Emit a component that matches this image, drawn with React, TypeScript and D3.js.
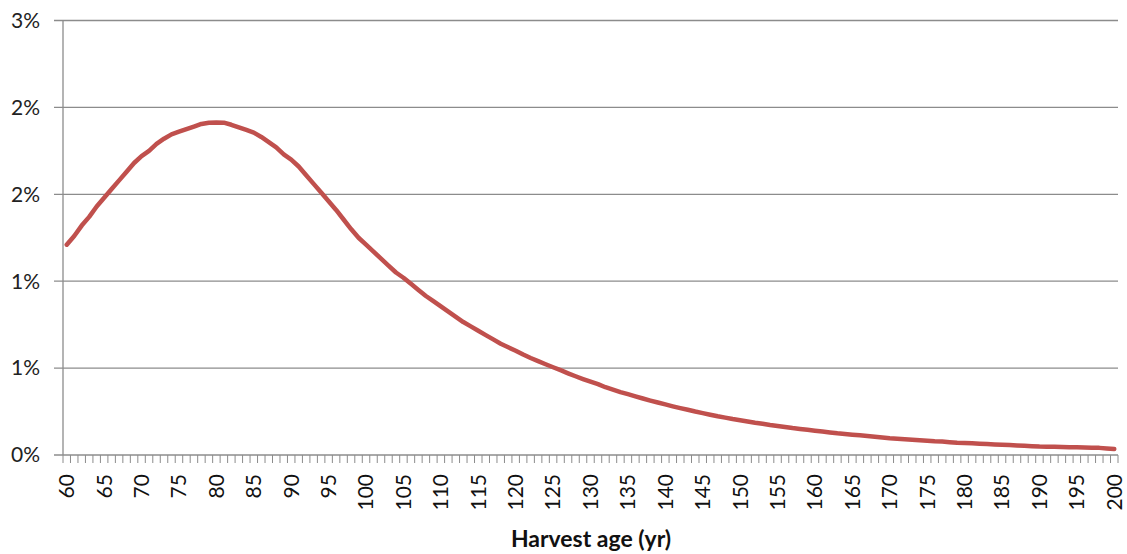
import React from "react";
import * as d3 from "d3";

const years: number[] = d3.range(60, 201);
const shares: number[] = [
  1.21, 1.26, 1.32, 1.37, 1.43, 1.48, 1.53, 1.58, 1.63, 1.68,
  1.72, 1.75, 1.79, 1.82, 1.845, 1.86, 1.875, 1.89, 1.905, 1.912,
  1.913, 1.912, 1.9, 1.885, 1.87, 1.855, 1.83, 1.8, 1.77, 1.73,
  1.7, 1.66, 1.61, 1.56, 1.51, 1.46, 1.41, 1.355, 1.3, 1.25,
  1.21, 1.17, 1.13, 1.09, 1.05, 1.02, 0.985, 0.95, 0.915, 0.885,
  0.855, 0.825, 0.795, 0.765, 0.74, 0.715, 0.69, 0.665, 0.64, 0.62,
  0.6, 0.578, 0.558, 0.54, 0.522, 0.505, 0.488, 0.47, 0.453, 0.437,
  0.422, 0.408, 0.39, 0.376, 0.362, 0.35, 0.337, 0.325, 0.313, 0.302,
  0.291, 0.28, 0.27, 0.26, 0.25, 0.241, 0.232, 0.223, 0.215, 0.207,
  0.2, 0.193, 0.186, 0.18, 0.173, 0.167, 0.161, 0.155, 0.15, 0.145,
  0.14, 0.135, 0.13, 0.125, 0.121, 0.117, 0.113, 0.109, 0.105, 0.101,
  0.097, 0.094, 0.091, 0.088, 0.085, 0.082, 0.079, 0.077, 0.074, 0.071,
  0.069, 0.067, 0.065, 0.063, 0.061, 0.059, 0.057, 0.055, 0.053, 0.051,
  0.049, 0.048, 0.047, 0.046, 0.045, 0.044, 0.043, 0.042, 0.041, 0.038,
  0.034,
];
const yTicks: number[] = [0, 0.5, 1, 1.5, 2, 2.5];
const yTickLabels: string[] = ["0%", "1%", "1%", "2%", "2%", "3%"];
const xLabelYears: number[] = d3.range(60, 201, 5);
const xTitle = "Harvest age (yr)";

const W = 1127;
const H = 554;
const left = 63;
const right = 1118;
const top = 20.5;
const bottom = 455;
const font = "Lato, 'Open Sans', sans-serif";
const gridColor = "#8c8c8c";

export default function App() {
  const x = d3
    .scaleBand<number>()
    .domain(years)
    .range([left, right])
    .paddingInner(0)
    .paddingOuter(0);
  const y = d3.scaleLinear().domain([0, 2.5]).range([bottom, top]);
  const cx = (yr: number) => (x(yr) as number) + x.bandwidth() / 2;

  const line = d3
    .line<number>()
    .x((_, i) => cx(years[i]))
    .y((d) => y(d));

  const tickXs: number[] = years.map((yr) => x(yr) as number).concat([right]);

  return (
    <svg
      width={W}
      height={H}
      style={{ position: "absolute", left: 0, top: 0, background: "#fff" }}
    >
      {yTicks.map((t, i) => (
        <g key={"y" + i}>
          <line
            x1={left - 9}
            x2={right}
            y1={y(t)}
            y2={y(t)}
            stroke={gridColor}
            strokeWidth={1.3}
          />
          <text
            x={40}
            y={y(t)}
            dy="0.35em"
            textAnchor="end"
            fontFamily={font}
            fontSize={21}
            fill="#222"
          >
            {yTickLabels[i]}
          </text>
        </g>
      ))}
      <line x1={left} x2={left} y1={top} y2={bottom} stroke={gridColor} strokeWidth={1.3} />
      {tickXs.map((tx, i) => (
        <line
          key={"t" + i}
          x1={tx}
          x2={tx}
          y1={bottom}
          y2={bottom + 8}
          stroke={gridColor}
          strokeWidth={1}
        />
      ))}
      {xLabelYears.map((yr) => (
        <text
          key={"x" + yr}
          transform={`translate(${cx(yr)},${bottom + 19}) rotate(-90)`}
          dy="0.35em"
          textAnchor="end"
          fontFamily={font}
          fontSize={21}
          fill="#111"
        >
          {yr}
        </text>
      ))}
      <path
        d={line(shares) || ""}
        fill="none"
        stroke="#C0504D"
        strokeWidth={4.5}
        strokeLinejoin="round"
        strokeLinecap="round"
      />
      <text
        x={591}
        y={547}
        textAnchor="middle"
        fontFamily={font}
        fontWeight="bold"
        fontSize={23}
        fill="#111"
      >
        {xTitle}
      </text>
    </svg>
  );
}
